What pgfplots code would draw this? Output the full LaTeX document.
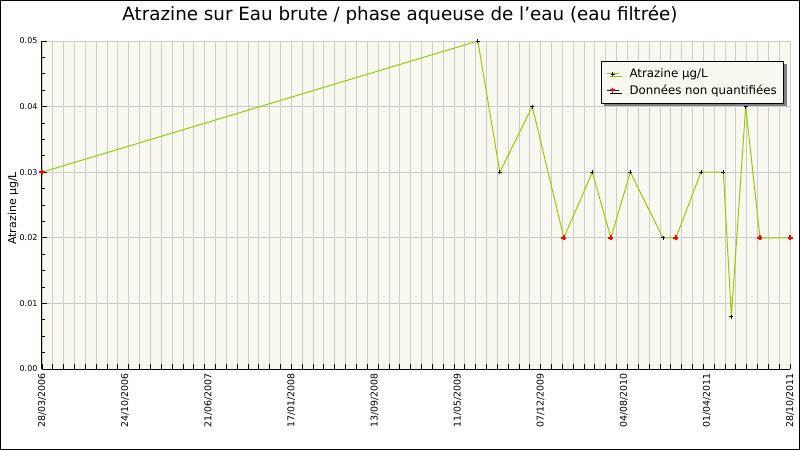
\documentclass[border=0pt]{standalone}
\usepackage{fontspec}
\setmainfont{DejaVu Sans}
\usepackage{pgfplots}
\pgfplotsset{compat=1.18}
\usetikzlibrary{shadows}

\definecolor{linegreen}{RGB}{153,204,0}
\definecolor{plotbg}{RGB}{248,248,240}
\definecolor{gridgray}{RGB}{204,204,204}

% x = days since 28/03/2006
\pgfplotstableread{
x y
0 0.03
1188.6 0.05
1248.6 0.03
1337.1 0.04
1423.3 0.02
1500.8 0.03
1551.5 0.02
1604.5 0.03
1693.4 0.02
1728.9 0.02
1797.1 0.03
1858.2 0.03
1880.1 0.008
1919.1 0.04
1958.1 0.02
2040 0.02
}\alldata

\pgfplotstableread{
x y
1188.6 0.05
1248.6 0.03
1337.1 0.04
1500.8 0.03
1604.5 0.03
1693.4 0.02
1797.1 0.03
1858.2 0.03
1880.1 0.008
1919.1 0.04
}\quantdata

\pgfplotstableread{
x y
0 0.03
1423.3 0.02
1551.5 0.02
1728.9 0.02
1958.1 0.02
2040 0.02
}\nonquant

\begin{document}
\begin{tikzpicture}
\path[use as bounding box] (-42pt,-81pt) rectangle (758pt,369pt);
\draw[line width=1.5pt] (-41.25pt,-80.25pt) rectangle (757.25pt,368.25pt);
\begin{axis}[
    scale only axis,
    width=748pt, height=328pt,
    xmin=0, xmax=2040,
    ymin=0, ymax=0.05,
    axis background/.style={fill=plotbg},
    axis lines*=left,
    axis line style={black, line width=1pt},
    tick align=inside,
    tick style={black, line width=0.8pt},
    major tick length=5pt,
    minor tick length=3pt,
    % vertical grid lines, one every 1/69 of the range
    xtick={0,29.57,59.13,88.7,118.26,147.83,177.39,206.96,236.52,266.09,
      295.65,325.22,354.78,384.35,413.91,443.48,473.04,502.61,532.17,561.74,
      591.3,620.87,650.43,680,709.57,739.13,768.7,798.26,827.83,857.39,
      886.96,916.52,946.09,975.65,1005.22,1034.78,1064.35,1093.91,1123.48,1153.04,
      1182.61,1212.17,1241.74,1271.3,1300.87,1330.43,1360,1389.57,1419.13,1448.7,
      1478.26,1507.83,1537.39,1566.96,1596.52,1626.09,1655.65,1685.22,1714.78,1744.35,
      1773.91,1803.48,1833.04,1862.61,1892.17,1921.74,1951.3,1980.87,2010.43,2040},
    xticklabels={},
    extra x ticks={0,226.6667,453.3333,680,906.6667,1133.3333,1360,1586.6667,1813.3333,2040},
    extra x tick labels={28/03/2006,24/10/2006,21/06/2007,17/01/2008,13/09/2008,11/05/2009,07/12/2009,04/08/2010,01/04/2011,28/10/2011},
    extra x tick style={grid=none, tick style={draw=none},
      xticklabel style={font=\fontsize{9.4}{10}\selectfont, rotate=90, anchor=east, xshift=-1pt}},
    xmajorgrids, ymajorgrids,
    grid style={gridgray, line width=0.8pt},
    ytick={0,0.01,0.02,0.03,0.04,0.05},
    minor ytick={0.0025,0.005,0.0075,0.0125,0.015,0.0175,0.0225,0.025,0.0275,
      0.0325,0.035,0.0375,0.0425,0.045,0.0475},
    yticklabel style={font=\fontsize{8}{9}\selectfont, xshift=-1pt,
      /pgf/number format/fixed, /pgf/number format/fixed zerofill,
      /pgf/number format/precision=2},
    /pgf/number format/assume math mode=true,
    scaled y ticks=false,
    ylabel={Atrazine µg/L},
    ylabel style={font=\fontsize{11}{12}\selectfont, at={(axis description cs:-0.0388,0.49)}, anchor=center},
    title={Atrazine sur Eau brute / phase aqueuse de l'eau (eau filtrée)},
    title style={font=\fontsize{18.3}{20}\selectfont, at={(axis description cs:0.4786,1)}, anchor=base, yshift=15pt},
    legend image code/.code={
      \draw[mark repeat=2, mark phase=2, #1] plot coordinates {(0pt,0pt) (6pt,0pt) (12pt,0pt)};
    },
    legend style={at={(axis description cs:0.9924,0.94)}, anchor=north east,
      font=\fontsize{11.8}{13}\selectfont, draw=black, line width=1pt, fill=plotbg,
      drop shadow={shadow xshift=3pt, shadow yshift=-3pt, fill=gray, opacity=1},
      inner xsep=5pt, inner ysep=5.5pt, row sep=1.5pt,
      /tikz/every odd column/.append style={column sep=8.5pt}},
    legend cell align=left,
  ]
  \addlegendimage{linegreen, line width=1pt, mark=+, mark size=2pt, mark options={black, line width=0.8pt}}
  \addlegendentry{Atrazine µg/L}
  \addlegendimage{black, line width=0.8pt, mark=+, mark size=2.5pt, mark options={red, line width=1.6pt}}
  \addlegendentry{Données non quantifiées}
  \addplot[linegreen, line width=1pt, forget plot] table[x=x, y=y] {\alldata};
  \addplot[only marks, mark=+, mark size=2pt, black, line width=0.8pt, forget plot] table[x=x, y=y] {\quantdata};
  \addplot[only marks, mark=+, mark size=2.5pt, red, line width=1.6pt, forget plot] table[x=x, y=y] {\nonquant};
\end{axis}
\end{tikzpicture}
\end{document}
